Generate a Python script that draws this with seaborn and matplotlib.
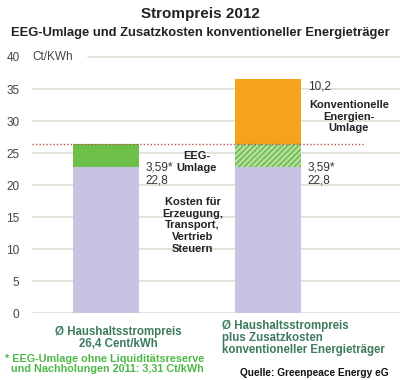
import matplotlib
matplotlib.use("Agg")
import matplotlib.pyplot as plt
import seaborn as sns
import pandas as pd

categories = ["Haushaltsstrompreis", "plus Zusatzkosten"]
kosten = [22.8, 22.8]
eeg = [3.59, 3.59]
konv = [0.0, 10.2]
avg_price = 26.4
yticks = [0, 5, 10, 15, 20, 25, 30, 35, 40]

sns.set_style("white")
plt.rcParams["font.family"] = ["Liberation Sans", "DejaVu Sans"]
plt.rcParams["hatch.color"] = "#6cc04a"
plt.rcParams["hatch.linewidth"] = 1.2

lvl1 = [k for k in kosten]
lvl2 = [k + e for k, e in zip(kosten, eeg)]
lvl3 = [k + e + c for k, e, c in zip(kosten, eeg, konv)]
df = pd.DataFrame({"cat": categories, "l1": lvl1, "l2": lvl2, "l3": lvl3})

fig = plt.figure(figsize=(4.0, 3.8), dpi=100)
ax = fig.add_axes([0.08, 0.176, 0.92, 0.674])

W = 0.41
sns.barplot(data=df, x="cat", y="l3", color="#f7a21b", width=W, ax=ax,
            saturation=1, linewidth=0, zorder=2)
sns.barplot(data=df, x="cat", y="l2", color="#6cc04a", width=W, ax=ax,
            saturation=1, linewidth=0, zorder=3)
sns.barplot(data=df, x="cat", y="l1", color="#c6c4e2", width=W, ax=ax,
            saturation=1, linewidth=0, zorder=4)

# hatch the EEG part of the second bar
green_patches = ax.patches[2:4]
p = green_patches[1]
p.set_facecolor("#b9dfa6")
p.set_hatch("//////")
p.set_edgecolor("#6cc04a")
p.set_linewidth(0)

ax.set_ylim(0, 40)
ax.set_xlim(-0.457, 1.815)
ax.set_yticks(yticks)
ax.set_yticklabels([str(t) for t in yticks], fontsize=8.5, color="#444444")
ax.set_xticks([])
ax.set_xlabel("")
ax.set_ylabel("")
for t in yticks[:-1]:
    ax.axhline(t, color="#dcdfd2", lw=1.2, zorder=1)
ax.plot([-0.11, 1.815], [yticks[-1], yticks[-1]], color="#dcdfd2", lw=1.2, zorder=1,
        clip_on=False)
ax.tick_params(axis="y", length=0, pad=9)
for s in ax.spines.values():
    s.set_visible(False)

ax.plot([-0.457, 1.6], [avg_price, avg_price], color="#c0504d", lw=1,
        ls=(0, (1, 1.5)), zorder=5)

fig.text(0.5, 0.962, "Strompreis 2012", ha="center", va="center",
         fontsize=11, fontweight="bold", color="#222222")
fig.text(0.5, 0.912, "EEG-Umlage und Zusatzkosten konventioneller Energieträger",
         ha="center", va="center", fontsize=9.4, fontweight="bold", color="#222222")
fig.text(0.08, 0.85, "Ct/KWh", ha="left", va="center", fontsize=8.5, color="#444444")

# labels at bars
for i in range(2):
    x = i + W / 2 + 0.04
    ax.text(x, lvl1[i] + 0.0, "3,59*", ha="left", va="center", fontsize=8.5, color="#333333")
    ax.text(x, lvl1[i] - 2.1, "22,8", ha="left", va="center", fontsize=8.5, color="#333333")
ax.text(1 + W / 2 + 0.04, lvl3[1] - 1.2, "10,2", ha="left", va="center",
        fontsize=8.5, color="#333333")
ax.text(0.56, 23.6, "EEG-\nUmlage", ha="center", va="center", fontsize=8,
        fontweight="bold", color="#222222", linespacing=1.2)
ax.text(0.535, 13.7, "Kosten für\nErzeugung,\nTransport,\nVertrieb\nSteuern", ha="center",
        va="center", fontsize=8, fontweight="bold", color="#222222", linespacing=1.22)
ax.text(1.5, 30.7, "Konventionelle\nEnergien-\nUmlage", ha="center", va="center",
        fontsize=8, fontweight="bold", color="#222222", linespacing=1.2)

fig.text(0.295, 0.11, "Ø Haushaltsstrompreis\n26,4 Cent/kWh", ha="center", va="center",
         fontsize=8.3, fontweight="bold", color="#3d7a5e", linespacing=1.05)
fig.text(0.555, 0.11, "Ø Haushaltsstrompreis\nplus Zusatzkosten\nkonventioneller Energieträger",
         ha="left", va="center", fontsize=8.3, fontweight="bold", color="#3d7a5e",
         linespacing=1.0)
fig.text(0.012, 0.042, "* EEG-Umlage ohne Liquiditätsreserve\n  und Nachholungen 2011: 3,31 Ct/kWh",
         ha="left", va="center", fontsize=7.8, fontweight="bold", color="#4db848",
         linespacing=1.1)
fig.text(0.6, 0.018, "Quelle: Greenpeace Energy eG", ha="left", va="center",
         fontsize=7.3, fontweight="bold", color="#111111")

fig.savefig("out.png", dpi=100)
